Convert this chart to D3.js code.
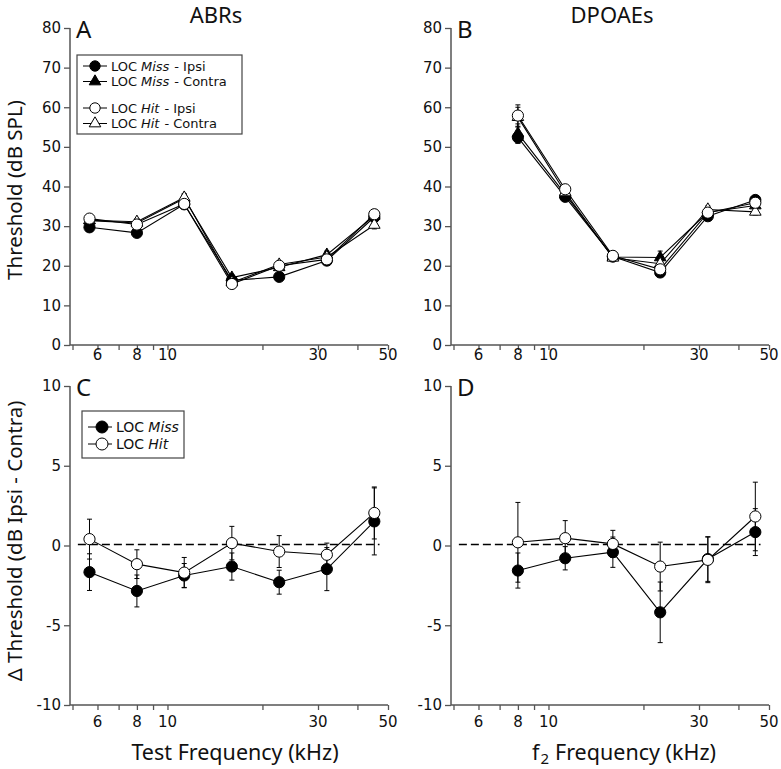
<!DOCTYPE html>
<html><head><meta charset="utf-8">
<script src="https://cdn.jsdelivr.net/npm/d3@7"></script>
<style>body{margin:0;background:#fff}</style>
</head><body>
<svg id="c" width="781" height="769" xmlns="http://www.w3.org/2000/svg"></svg>
<script>
// ---------- data ----------
const abrFreqs = [5.66, 8, 11.3, 16, 22.6, 32, 45.25];
const dpFreqs = [8, 11.3, 16, 22.6, 32, 45.25];
const xTickValues = [5, 6, 7, 8, 9, 10, 20, 30, 40, 50];
const xTickLabels = [6, 8, 10, 30, 50];
const thresholdTicks = [0, 10, 20, 30, 40, 50, 60, 70, 80];
const deltaTicks = [-10, -5, 0, 5, 10];

// Panel A (ABR thresholds, dB SPL)
const abrMissIpsi    = [29.7, 28.3, 35.5, 16.3, 17.2, 21.3, 32.3];
const abrMissContra  = [31.4, 30.8, 37.0, 17.0, 19.6, 22.8, 32.6];
const abrHitContra   = [31.5, 31.1, 37.2, 15.8, 20.3, 22.2, 30.3];
const abrHitIpsi     = [31.9, 30.4, 35.6, 15.4, 20.0, 21.6, 33.0];
const abrMissIpsiErr   = [0.9, 0.8, 1.0, 0.8, 0.8, 0.8, 1.0];
const abrMissContraErr = [0.9, 0.8, 1.0, 0.8, 0.8, 0.9, 1.1];
const abrHitContraErr  = [0.9, 0.8, 1.0, 0.8, 0.8, 0.8, 1.0];
const abrHitIpsiErr    = [0.9, 0.8, 1.0, 0.8, 0.8, 0.8, 1.2];

// Panel B (DPOAE thresholds, dB SPL)
const dpMissIpsi    = [52.4, 37.4, 22.3, 18.3, 32.5, 36.6];
const dpMissContra  = [53.4, 38.0, 22.2, 22.1, 33.5, 35.2];
const dpHitContra   = [57.5, 38.5, 22.0, 20.5, 34.2, 33.6];
const dpHitIpsi     = [57.9, 39.3, 22.5, 19.1, 33.4, 35.9];
const dpMissIpsiErr   = [1.5, 0.8, 0.6, 0.9, 0.9, 0.8];
const dpMissContraErr = [2.4, 0.8, 0.6, 1.6, 0.9, 0.8];
const dpHitContraErr  = [2.5, 0.8, 0.6, 1.2, 0.9, 0.8];
const dpHitIpsiErr    = [2.7, 0.8, 0.6, 1.0, 0.9, 0.8];

// Panel C (ABR delta threshold, Ipsi - Contra)
const abrDeltaMiss    = [-1.67, -2.85, -1.88, -1.32, -2.30, -1.48, 1.51];
const abrDeltaMissErr = [1.15, 1.0, 0.75, 0.85, 0.75, 1.35, 2.1];
const abrDeltaHit     = [0.40, -1.17, -1.70, 0.15, -0.38, -0.58, 2.04];
const abrDeltaHitErr  = [1.25, 0.9, 0.95, 1.05, 1.0, 0.73, 1.63];

// Panel D (DPOAE delta threshold, Ipsi - Contra)
const dpDeltaMiss    = [-1.57, -0.80, -0.42, -4.19, -0.85, 0.84];
const dpDeltaMissErr = [1.1, 0.73, 0.95, 1.9, 1.4, 1.47];
const dpDeltaHit     = [0.20, 0.46, 0.10, -1.32, -0.90, 1.82];
const dpDeltaHitErr  = [2.5, 1.1, 0.85, 1.53, 1.43, 2.15];

// ---------- drawing ----------
const svg = d3.select('#c');
const FONT = "'Noto Sans', 'DejaVu Sans', sans-serif";
const TFONT = "'DejaVu Sans', sans-serif";
const AX = '#555';

const panels = [
  {letter:'A', left:70,  xr:[72.5,388], ydom:[0,80],   yr:[345,28],  yticks:thresholdTicks, xlabOff:15,
   freqs:abrFreqs, series:[
     {v:abrMissIpsi, e:abrMissIpsiErr, shape:'circle', fill:'#000'},
     {v:abrMissContra, e:abrMissContraErr, shape:'tri', fill:'#000'},
     {v:abrHitContra, e:abrHitContraErr, shape:'tri', fill:'#fff'},
     {v:abrHitIpsi, e:abrHitIpsiErr, shape:'circle', fill:'#fff'}]},
  {letter:'B', left:451, xr:[453.5,769], ydom:[0,80],  yr:[345,28],  yticks:thresholdTicks, xlabOff:15,
   freqs:dpFreqs, series:[
     {v:dpMissIpsi, e:dpMissIpsiErr, shape:'circle', fill:'#000'},
     {v:dpMissContra, e:dpMissContraErr, shape:'tri', fill:'#000'},
     {v:dpHitContra, e:dpHitContraErr, shape:'tri', fill:'#fff'},
     {v:dpHitIpsi, e:dpHitIpsiErr, shape:'circle', fill:'#fff'}]},
  {letter:'C', left:70,  xr:[72.5,388], ydom:[-10,10], yr:[705,386], yticks:deltaTicks, xlabOff:22, dashed:true,
   freqs:abrFreqs, series:[
     {v:abrDeltaMiss, e:abrDeltaMissErr, shape:'circle', fill:'#000'},
     {v:abrDeltaHit, e:abrDeltaHitErr, shape:'circle', fill:'#fff'}]},
  {letter:'D', left:451, xr:[453.5,769], ydom:[-10,10], yr:[705,386], yticks:deltaTicks, xlabOff:22, dashed:true,
   freqs:dpFreqs, series:[
     {v:dpDeltaMiss, e:dpDeltaMissErr, shape:'circle', fill:'#000'},
     {v:dpDeltaHit, e:dpDeltaHitErr, shape:'circle', fill:'#fff'}]}
];

const triPath = d3.symbol().type(d3.symbolTriangle).size(58)();

function marker(g, cx, cy, shape, fill, r) {
  if (shape === 'circle') {
    g.append('circle').attr('cx', cx).attr('cy', cy).attr('r', r || 5.6)
      .attr('fill', fill).attr('stroke', '#000').attr('stroke-width', 1);
  } else {
    g.append('path').attr('d', triPath).attr('transform', `translate(${cx},${cy})`)
      .attr('fill', fill).attr('stroke', '#000').attr('stroke-width', 1);
  }
}

panels.forEach(p => {
  const x = d3.scaleLog().domain([5, 50]).range(p.xr);
  const y = d3.scaleLinear().domain(p.ydom).range(p.yr);
  const g = svg.append('g');
  const base = p.yr[0];

  // y axis
  const yAxis = d3.axisLeft(y).tickValues(p.yticks).tickSize(6).tickPadding(3).tickFormat(d => String(d));
  const ya = g.append('g').attr('transform', `translate(${p.left},0)`).call(yAxis);
  ya.select('.domain').attr('stroke', AX).attr('stroke-width', 1.5).attr('d', `M0,${p.yr[1]}V${base}`);
  ya.selectAll('.tick line').attr('stroke', AX).attr('stroke-width', 1.3);
  ya.selectAll('.tick text').attr('font-family', TFONT).attr('font-size', 15).attr('fill', '#111');

  // x axis
  const xAxis = d3.axisBottom(x).tickValues(xTickValues).tickSize(5).tickFormat(() => '');
  const xa = g.append('g').attr('transform', `translate(0,${base})`).call(xAxis);
  xa.select('.domain').attr('stroke', AX).attr('stroke-width', 1.5).attr('d', `M${p.left},0H${p.xr[1]}`);
  xa.selectAll('.tick line').attr('stroke', AX).attr('stroke-width', 1.3);
  g.selectAll('.xlab').data(xTickLabels).enter().append('text')
    .attr('x', d => x(d)).attr('y', base + p.xlabOff).attr('text-anchor', 'middle')
    .attr('font-family', TFONT).attr('font-size', 15).attr('fill', '#111').text(d => d);

  // panel letter
  g.append('text').attr('x', p.left + 6).attr('y', p.yr[1] + 10).attr('font-family', FONT)
    .attr('font-size', 24).attr('fill', '#111').text(p.letter);

  // zero dashed reference line
  if (p.dashed) {
    g.append('line').attr('x1', x(5.2)).attr('x2', x(47)).attr('y1', y(0) - 1).attr('y2', y(0) - 1)
      .attr('stroke', '#000').attr('stroke-width', 1.5).attr('stroke-dasharray', '8,4');
  }

  // error bars
  p.series.forEach(s => {
    s.v.forEach((v, i) => {
      const cx = x(p.freqs[i]);
      const t = y(v + s.e[i]), b = y(v - s.e[i]);
      g.append('line').attr('x1', cx).attr('x2', cx).attr('y1', t).attr('y2', b).attr('stroke', '#000').attr('stroke-width', 1);
      [t, b].forEach(yy => g.append('line').attr('x1', cx - 2.5).attr('x2', cx + 2.5).attr('y1', yy).attr('y2', yy)
        .attr('stroke', '#000').attr('stroke-width', 1));
    });
  });
  // lines
  const line = d3.line().x(d => d[0]).y(d => d[1]);
  p.series.forEach(s => {
    g.append('path').attr('d', line(s.v.map((v, i) => [x(p.freqs[i]), y(v)])))
      .attr('fill', 'none').attr('stroke', '#000').attr('stroke-width', 1.1);
  });
  // markers
  p.series.forEach(s => {
    s.v.forEach((v, i) => marker(g, x(p.freqs[i]), y(v), s.shape, s.fill));
  });
});

// column titles
svg.append('text').attr('x', 216).attr('y', 23).attr('text-anchor', 'middle').attr('font-family', FONT)
  .attr('font-size', 22).attr('fill', '#111').text('ABRs');
svg.append('text').attr('x', 612).attr('y', 23).attr('text-anchor', 'middle').attr('font-family', FONT)
  .attr('font-size', 22).attr('fill', '#111').text('DPOAEs');

// y-axis titles
svg.append('text').attr('transform', 'translate(22,190) rotate(-90)').attr('text-anchor', 'middle')
  .attr('font-family', FONT).attr('font-size', 20.5).attr('fill', '#111').text('Threshold (dB SPL)');
svg.append('text').attr('transform', 'translate(22,541) rotate(-90)').attr('text-anchor', 'middle')
  .attr('font-family', FONT).attr('font-size', 20.5).attr('fill', '#111').text('\u0394 Threshold (dB Ipsi - Contra)');

// x-axis titles
svg.append('text').attr('x', 235).attr('y', 760).attr('text-anchor', 'middle').attr('font-family', FONT)
  .attr('font-size', 21.5).attr('fill', '#111').text('Test Frequency (kHz)');
// f2 label built from separate pieces, centred at x = 624
(function () {
  const gl = svg.append('g');
  const tf = gl.append('text').attr('y', 760).attr('font-family', FONT).attr('font-size', 21.5).attr('fill', '#111').text('f');
  const t2 = gl.append('text').attr('y', 764).attr('font-family', FONT).attr('font-size', 15).attr('fill', '#111').text('2');
  const tr = gl.append('text').attr('y', 760).attr('font-family', FONT).attr('font-size', 21.5).attr('fill', '#111').text('Frequency (kHz)');
  const w1 = tf.node().getComputedTextLength(), w2 = t2.node().getComputedTextLength(), w3 = tr.node().getComputedTextLength();
  const gap = 6;
  const total = w1 + 1 + w2 + gap + w3;
  let x0 = 624 - total / 2;
  tf.attr('x', x0); t2.attr('x', x0 + w1 + 1); tr.attr('x', x0 + w1 + 1 + w2 + gap);
})();

// legends
const legA = [
  {pre:'LOC', it:'Miss', post:'- Ipsi', shape:'circle', fill:'#000', y:66},
  {pre:'LOC', it:'Miss', post:'- Contra', shape:'tri', fill:'#000', y:81.5},
  {pre:'LOC', it:'Hit', post:'- Ipsi', shape:'circle', fill:'#fff', y:108},
  {pre:'LOC', it:'Hit', post:'- Contra', shape:'tri', fill:'#fff', y:123.5}
];
const legC = [
  {pre:'LOC', it:'Miss', post:'', shape:'circle', fill:'#000', y:427},
  {pre:'LOC', it:'Hit', post:'', shape:'circle', fill:'#fff', y:444}
];
function legend(items, box, lx1, lx2, mx, tx, fs, r) {
  const g = svg.append('g');
  g.append('rect').attr('x', box[0]).attr('y', box[1]).attr('width', box[2]).attr('height', box[3])
    .attr('fill', '#fff').attr('stroke', '#444').attr('stroke-width', 1.2);
  items.forEach(it => {
    g.append('line').attr('x1', lx1).attr('x2', lx2).attr('y1', it.y).attr('y2', it.y).attr('stroke', '#000').attr('stroke-width', 1);
    marker(g, mx, it.y, it.shape, it.fill, r);
    const by = it.y + fs * 0.36;
    const sp = fs * 0.3;
    let cx = tx;
    const a = g.append('text').attr('x', cx).attr('y', by).attr('font-family', TFONT).attr('font-size', fs).attr('fill', '#111').text(it.pre);
    cx += a.node().getComputedTextLength() + sp;
    const b = g.append('text').attr('x', cx).attr('y', by).attr('font-family', TFONT).attr('font-size', fs)
      .attr('font-style', 'italic').attr('fill', '#111').text(it.it);
    cx += b.node().getComputedTextLength() + sp + 1;
    if (it.post) g.append('text').attr('x', cx).attr('y', by).attr('font-family', TFONT).attr('font-size', fs).attr('fill', '#111').text(it.post);
  });
}
legend(legA, [77, 55, 165, 79], 83, 107, 95, 111, 13, 5.2);
legend(legC, [82, 411, 102, 47], 88, 112, 102, 116, 14, 6);
</script>
</body></html>
